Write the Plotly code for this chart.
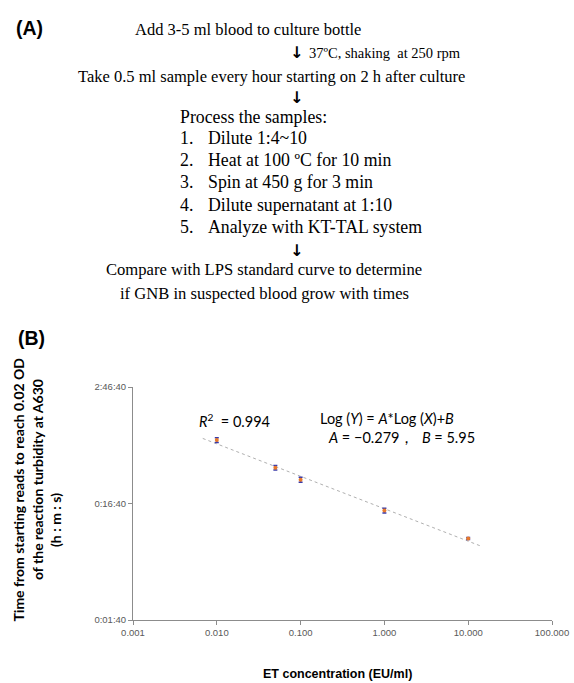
import numpy as np
import plotly.graph_objects as go

W, H = 574, 683

# ---- data (panel B) ----
et_conc = [0.01, 0.05, 0.1, 1.0, 10.0]            # EU/ml
time_s = [3500, 2030, 1600, 870, 500]             # seconds
time_err = [160, 90, 80, 40, 10]
trend_range = [0.0068, 13.8]
x_tickvals = [0.001, 0.01, 0.1, 1, 10, 100]
x_ticktext = ["0.001", "0.010", "0.100", "1.000", "10.000", "100.000"]
y_tickvals = [100, 1000, 10000]
y_ticktext = ["0:01:40", "0:16:40", "2:46:40"]

# ---- text (panel A) ----
step_lines = ["Dilute 1:4~10", "Heat at 100 \u00baC for 10 min", "Spin at 450 g for 3 min",
              "Dilute supernatant at 1:10", "Analyze with KT-TAL system"]


def px(x):
    return x / W


def py(y):
    return 1 - y / H


coef = np.polyfit(np.log10(et_conc), np.log10(time_s), 1)
tx = np.array(trend_range)
ty = 10 ** np.polyval(coef, np.log10(tx))

fig = go.Figure()
fig.add_trace(go.Scatter(x=tx, y=ty, mode="lines",
                         line=dict(color="#b0b0b0", width=1, dash="dot"),
                         hoverinfo="skip", showlegend=False))
fig.add_trace(go.Scatter(x=et_conc, y=time_s, mode="markers",
                         marker=dict(color="#e8792b", size=4),
                         error_y=dict(type="data", array=time_err, color="#3a3aa8",
                                      thickness=1.5, width=2),
                         showlegend=False))

axis_common = dict(showline=True, linecolor="#8c8c8c", linewidth=1, ticks="outside",
                   ticklen=4, tickcolor="#8c8c8c", showgrid=False, zeroline=False,
                   automargin=False,
                   tickfont=dict(family="Liberation Sans", size=9.5, color="#595959"))

fig.update_xaxes(type="log", range=[-3, 2], tickvals=x_tickvals, ticktext=x_ticktext,
                 domain=[px(133), px(552)], **axis_common)
fig.update_yaxes(type="log", range=[2, 4], tickvals=y_tickvals, ticktext=y_ticktext,
                 domain=[py(620), py(387)], **axis_common)

ann = []


def add(text, x, y, size, family="Liberation Serif", xanchor="center", bold=False,
        angle=0, color="black"):
    ann.append(dict(text=("<b>%s</b>" % text) if bold else text, x=px(x), y=py(y),
                    xref="paper", yref="paper", showarrow=False, xanchor=xanchor,
                    yanchor="middle", textangle=angle,
                    font=dict(family=family, size=size, color=color)))


# Panel A
add("(A)", 14, 28, 19.5, family="Liberation Sans", xanchor="left", bold=True)
add("Add 3-5 ml blood to culture bottle", 248, 30, 16.5)
add("\u2193", 296, 52, 16, family="DejaVu Sans", bold=True)
add("37\u00baC, shaking  at 250 rpm", 307, 53, 14.5, xanchor="left")
add("Take 0.5 ml sample every hour starting on 2 h after culture", 271, 76, 16.5)
add("\u2193", 296, 97, 16, family="DejaVu Sans", bold=True)
add("Process the samples:", 178, 117, 17.8, xanchor="left")
for i, s in enumerate(step_lines):
    yy = 138 + i * 22.2
    add("%d." % (i + 1), 178, yy, 17.8, xanchor="left")
    add(s, 206, yy, 17.8, xanchor="left")
add("\u2193", 296, 250, 16, family="DejaVu Sans", bold=True)
add("Compare with LPS standard curve to determine", 264, 270, 16.6)
add("if GNB in suspected blood grow with times", 264, 293, 16.6)

# Panel B
add("(B)", 16, 338, 19.5, family="Liberation Sans", xanchor="left", bold=True)
add("Time from starting reads to reach 0.02 OD", 17.5, 490, 14, family="Lato", bold=True, angle=-90)
add("of the reaction turbidity at A630", 37, 480, 14, family="Lato", bold=True, angle=-90)
add("(h : m : s)", 55, 520, 14, family="Lato", bold=True, angle=-90)
add("ET concentration (EU/ml)", 337, 674, 12.5, family="Liberation Sans", bold=True)
add("<i>R</i><sup>2</sup>  = 0.994", 197, 420, 14.5, family="Lato", xanchor="left")
add("Log (<i>Y</i>) = <i>A</i>*Log (<i>X</i>)+<i>B</i>", 318, 418, 14.5, family="Lato", xanchor="left")
add("<i>A</i> = \u22120.279\uff0c  <i>B</i> = 5.95", 326, 437, 14.5, family="Lato", xanchor="left")

fig.update_layout(width=W, height=H, margin=dict(l=0, r=0, t=0, b=0),
                  paper_bgcolor="white", plot_bgcolor="white", annotations=ann)

fig.write_html("out.html", config={"displayModeBar": False},
               post_script="document.body.style.margin='0';")
